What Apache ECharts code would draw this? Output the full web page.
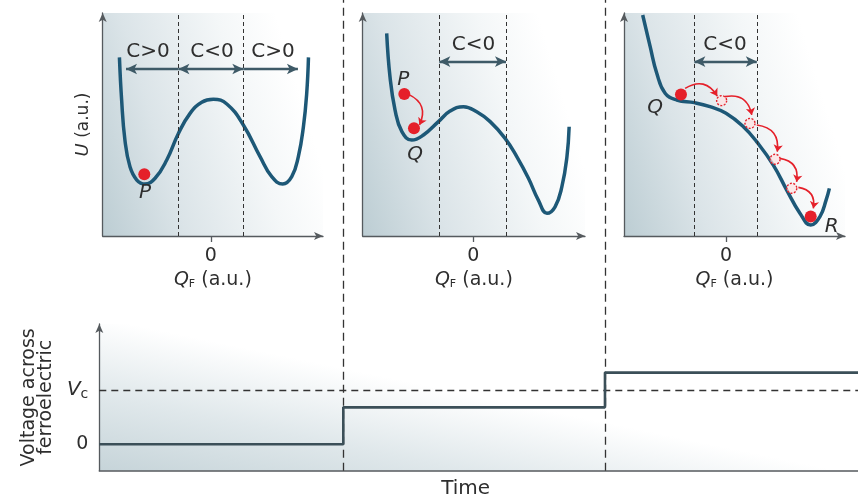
<!DOCTYPE html>
<html><head><meta charset="utf-8">
<script src="https://cdn.jsdelivr.net/npm/echarts@6/dist/echarts.min.js"></script>
<style>html,body{margin:0;padding:0;background:#fff}#c{width:858px;height:500px}</style>
</head><body><div id="c"></div>
<script>
// ---------- data ----------
// potential-energy curves U(Q_F), [Q_F, U] in a.u.
const curve1 = [[-4.15,8.01],[-4.05,6.1],[-3.9,4.3],[-3.67,3.1],[-3.36,2.51],[-2.99,2.33],[-2.53,2.59],[-2.0,3.41],[-1.47,4.6],[-0.94,5.5],[-0.41,6.0],[0.12,6.13],[0.73,5.92],[1.48,4.98],[2.24,3.56],[2.77,2.66],[3.27,2.33],[3.68,2.66],[3.98,3.56],[4.21,4.9],[4.36,6.4],[4.44,8.01]];
const curve2 = [[-3.94,9.09],[-3.79,7.14],[-3.56,5.65],[-3.25,4.68],[-2.8,4.3],[-2.27,4.53],[-1.59,5.13],[-1.06,5.6],[-0.45,5.8],[0.15,5.57],[0.76,5.13],[1.44,4.38],[1.97,3.56],[2.50,2.59],[2.95,1.61],[3.34,1.02],[3.71,1.31],[4.02,2.21],[4.25,3.56],[4.35,4.90]];
const curve3 = [[-3.79,9.91],[-3.45,8.49],[-3.15,7.3],[-2.77,6.4],[-2.24,6.1],[-1.44,5.98],[-0.73,5.8],[0,5.5],[0.79,4.9],[1.39,4.23],[2.15,3.18],[2.76,2.06],[3.36,1.02],[3.85,0.49],[4.27,0.87],[4.55,1.61],[4.70,2.14]];
// Q_F axis extents per panel
const qRange1 = [-4.91, 5.10];
const qRange2 = [-5.03, 5.07];
const qRange3 = [-4.64, 5.41];
const uRange = [0, 10];
// C<0 region boundaries (dashed)
const bounds1 = [-1.47, 1.48];
const bounds2 = [-1.55, 1.48];
const bounds3 = [-1.44, 1.40];
// region arrows [from, to, y, startSymbol, endSymbol]
const regionArrows1 = [[-1.47,-3.85,7.49,'none','arrow'],[-1.47,1.48,7.49,'arrow','arrow'],[1.48,3.96,7.49,'none','arrow']];
const regionArrows2 = [[-1.55,1.48,7.82,'arrow','arrow']];
const regionArrows3 = [[-1.44,1.40,7.82,'arrow','arrow']];
// region labels [text, x, y]
const regionLabels1 = [['C>0',-2.85,8.25],['C<0',0.06,8.25],['C>0',2.83,8.25]];
const regionLabels2 = [['C<0',0.0,8.56]];
const regionLabels3 = [['C<0',-0.05,8.56]];
// state dots and labels
const dots1 = [[-3.02,2.77]];
const dots2 = [[-3.14,6.37],[-2.70,4.83]];
const dots3 = [[-2.05,6.35],[3.85,0.87]];
const ghosts3 = [[-0.20,6.07],[1.09,5.05],[2.23,3.44],[2.99,2.14]];
const stateLabels1 = [['P',-2.99,1.93]];
const stateLabels2 = [['P',-3.19,7.0],['Q',-2.65,3.63]];
const stateLabels3 = [['Q',-3.23,5.74],['R',4.80,0.42]];
// hopping arrows [[from],[to]]
const hops2 = [[[-2.95,6.35],[-2.45,4.98]]];
const hops3 = [[[-1.86,6.62],[-0.40,6.28]],[[-0.05,6.25],[1.17,5.43]],[[1.40,4.98],[2.33,3.78]],[[2.45,3.48],[3.21,2.43]],[[3.29,2.18],[3.97,1.24]]];
// voltage vs time
const timeRange = [0, 10];
const stepTimes = [3.216, 6.665];
const voltageLevels = [0, 0.68, 1.32];
const vRange = [-0.486, 2.215];
const vTickValues = [0, 1];          // 0 and V_c
const vcLevel = 1;

// ---------- styling ----------
const FONT = 'DejaVu Sans';
const INK = '#2e2e2e';
const AXIS = '#555a5e';
const CURVE = '#1d5877';
const RED = '#e5202a';
const ARROW = '#3e5a67';
const topBg = {type:'linear', x:0, y:1, x2:1, y2:0.7, colorStops:[
  {offset:0, color:'#bccdd3'}, {offset:0.35, color:'#dbe4e8'}, {offset:0.75, color:'#f4f7f8'}, {offset:1, color:'#ffffff'}]};
const botBg = {type:'linear', x:0, y:1, x2:0.04, y2:0, colorStops:[
  {offset:0, color:'#c6d4d9'}, {offset:0.5, color:'#e0e8eb'}, {offset:1, color:'#ffffff'}]};

const grids = [
  {left:102.7, top:13, width:220.3, height:223, show:true, borderWidth:0, backgroundColor:topBg},
  {left:362.7, top:13, width:222.3, height:223, show:true, borderWidth:0, backgroundColor:topBg},
  {left:624, top:13, width:221, height:223, show:true, borderWidth:0, backgroundColor:topBg},
  {left:99.3, top:324, width:758.7, height:146.7, show:true, borderWidth:0, backgroundColor:botBg},
  {left:99.3, top:0, width:758.7, height:470.7, show:false}
];

const txt = {color:INK, fontFamily:FONT, fontSize:19};

function topX(gi, r) {
  return {
    type:'value', gridIndex:gi, min:r[0], max:r[1],
    axisLine:{show:true, onZero:false, lineStyle:{color:AXIS, width:1.3}, symbol:['none','arrow'], symbolSize:[6,9]},
    axisTick:{show:true, customValues:[0], length:6, lineStyle:{color:AXIS, width:1.3}},
    axisLabel:Object.assign({show:true, customValues:[0], margin:11}, txt),
    splitLine:{show:false},
    name:'{q|Q}{f|F} (a.u.)', nameLocation:'middle', nameGap:35,
    nameTextStyle:Object.assign({}, txt, {rich:{
      q:{fontStyle:'italic', fontSize:19, fontFamily:FONT, color:INK},
      f:{fontSize:11, fontFamily:FONT, color:INK, verticalAlign:'bottom', padding:[7,0,0,0]}
    }})
  };
}
function topY(gi, withName) {
  const a = {
    type:'value', gridIndex:gi, min:uRange[0], max:uRange[1],
    axisLine:{show:true, onZero:false, lineStyle:{color:AXIS, width:1.3}, symbol:['none','arrow'], symbolSize:[6,9]},
    axisTick:{show:false}, axisLabel:{show:false}, splitLine:{show:false}
  };
  if (withName) {
    a.name = '{u|U} (a.u.)'; a.nameLocation = 'middle'; a.nameGap = 10;
    a.nameTextStyle = Object.assign({}, txt, {fontSize:17, rich:{u:{fontStyle:'italic', fontSize:18, fontFamily:FONT, color:INK}}});
  }
  return a;
}

function textSeries(gi, list, italic) {
  return {
    type:'scatter', xAxisIndex:gi, yAxisIndex:gi, symbolSize:1, silent:true, animation:false, z:9,
    itemStyle:{color:'rgba(0,0,0,0)', opacity:1},
    data:list.map(l => ({name:l[0], value:[l[1], l[2]]})),
    label:{show:true, position:'inside', formatter:p => p.name, color:INK, opacity:1,
      fontFamily:FONT, fontSize:20, fontStyle: italic ? 'italic' : 'normal'}
  };
}

function panelSeries(gi, curve, bounds, arrows, labels, dots, states, hops, ghosts) {
  const s = [];
  s.push({
    type:'line', xAxisIndex:gi, yAxisIndex:gi, data:curve, smooth:0.45, showSymbol:false,
    lineStyle:{color:CURVE, width:3.5}, z:4, silent:true, animation:false,
    markLine:{
      silent:true, animation:false, symbol:'none', label:{show:false},
      lineStyle:{type:[4,3], color:'#333', width:1},
      data:bounds.map(b => ({xAxis:b}))
    }
  });
  const t = textSeries(gi, labels, false);
  t.markLine = {
    silent:true, animation:false, symbolSize:[8,11], label:{show:false},
    lineStyle:{type:'solid', color:ARROW, width:2.3},
    data:arrows.map(a => [{coord:[a[0], a[2]], symbol:a[3]}, {coord:[a[1], a[2]], symbol:a[4]}])
  };
  s.push(t);
  s.push(textSeries(gi, states, true));
  if (ghosts) s.push({
    type:'scatter', xAxisIndex:gi, yAxisIndex:gi, symbolSize:10, z:6, silent:true, animation:false,
    itemStyle:{color:'rgba(255,225,225,0.7)', opacity:1, borderColor:RED, borderWidth:1.4, borderType:[2,1.5]},
    data:ghosts
  });
  if (hops) s.push({
    type:'lines', coordinateSystem:'cartesian2d', xAxisIndex:gi, yAxisIndex:gi, z:7, silent:true, animation:false,
    symbol:['none','arrow'], symbolSize:7,
    lineStyle:{color:RED, width:1.6, curveness:0.5, opacity:1},
    data:hops.map(h => ({coords:h}))
  });
  s.push({
    type:'scatter', xAxisIndex:gi, yAxisIndex:gi, symbolSize:12, z:8, silent:true, animation:false,
    itemStyle:{color:RED, opacity:1}, data:dots
  });
  return s;
}

// step path built from the step times and levels
const stepPath = [[timeRange[0], voltageLevels[0]]];
stepTimes.forEach((t, i) => { stepPath.push([t, voltageLevels[i]]); stepPath.push([t, voltageLevels[i+1]]); });
stepPath.push([timeRange[1], voltageLevels[voltageLevels.length-1]]);

const option = {
  animation:false,
  grid:grids,
  xAxis:[
    topX(0, qRange1), topX(1, qRange2), topX(2, qRange3),
    {type:'value', gridIndex:3, min:timeRange[0], max:timeRange[1],
     axisLine:{show:true, onZero:false, lineStyle:{color:AXIS, width:1.5}},
     axisTick:{show:false}, axisLabel:{show:false}, splitLine:{show:false},
     name:'Time', nameLocation:'middle', nameGap:8,
     nameTextStyle:Object.assign({}, txt, {fontSize:20, padding:[0,26,0,0]})},
    {type:'value', gridIndex:4, min:timeRange[0], max:timeRange[1], show:false}
  ],
  yAxis:[
    topY(0, true), topY(1, false), topY(2, false),
    {type:'value', gridIndex:3, min:vRange[0], max:vRange[1],
     axisLine:{show:true, onZero:false, lineStyle:{color:AXIS, width:1.3}, symbol:['none','arrow'], symbolSize:[6,9]},
     axisTick:{show:false}, splitLine:{show:false},
     axisLabel:Object.assign({show:true, customValues:vTickValues, margin:11,
       formatter:v => v === vcLevel ? '{v|V}{c|c}' : String(v),
       rich:{v:{fontStyle:'italic', fontSize:20, fontFamily:FONT, color:INK},
             c:{fontSize:14, fontFamily:FONT, color:INK, verticalAlign:'bottom', padding:[9,0,0,0]}}}, txt, {fontSize:19}),
     name:'Voltage across\nferroelectric', nameLocation:'middle', nameGap:45,
     nameTextStyle:Object.assign({}, txt, {fontSize:19, lineHeight:17})},
    {type:'value', gridIndex:4, min:0, max:1, show:false}
  ],
  series:[].concat(
    panelSeries(0, curve1, bounds1, regionArrows1, regionLabels1, dots1, stateLabels1, null, null),
    panelSeries(1, curve2, bounds2, regionArrows2, regionLabels2, dots2, stateLabels2, hops2, null),
    panelSeries(2, curve3, bounds3, regionArrows3, regionLabels3, dots3, stateLabels3, hops3, ghosts3),
    [{
      type:'line', xAxisIndex:3, yAxisIndex:3, data:stepPath, showSymbol:false, z:5, silent:true,
      lineStyle:{color:'#3b4f58', width:2.6},
      markLine:{silent:true, animation:false, symbol:'none', label:{show:false},
        lineStyle:{type:[7,5], color:'#333', width:1.3}, data:[{yAxis:vcLevel}]}
    },
    {
      type:'line', xAxisIndex:4, yAxisIndex:4, data:[[timeRange[0],0],[timeRange[1],0]], showSymbol:false, silent:true,
      lineStyle:{opacity:0},
      markLine:{silent:true, animation:false, symbol:'none', label:{show:false},
        lineStyle:{type:[8,5], color:'#333', width:1.3}, data:stepTimes.map(t => ({xAxis:t}))}
    }]
  )
};
const chart = echarts.init(document.getElementById('c'), null, {renderer:'canvas'});
chart.setOption(option);
</script>
</body></html>
